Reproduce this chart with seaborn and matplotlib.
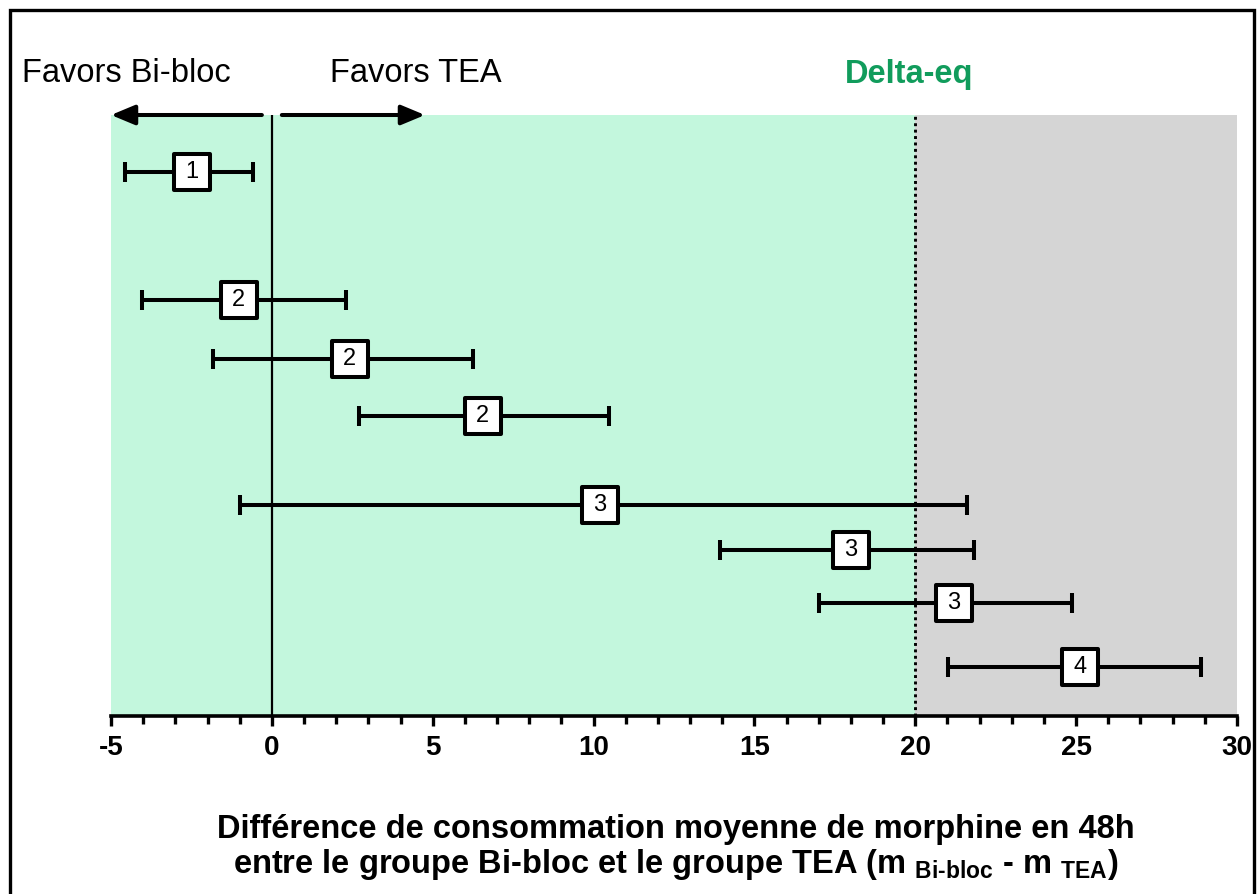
import matplotlib
matplotlib.use("Agg")
import matplotlib.pyplot as plt
import pandas as pd
import seaborn as sns
from matplotlib.patches import Rectangle
from matplotlib.ticker import MultipleLocator


sns.set_theme(style="white")
plt.rcParams["font.family"] = ["Liberation Sans", "DejaVu Sans"]
plt.rcParams["text.color"] = "black"
plt.rcParams["mathtext.fontset"] = "custom"
plt.rcParams["mathtext.rm"] = "Liberation Sans:bold"
plt.rcParams["mathtext.bf"] = "Liberation Sans:bold"
plt.rcParams["mathtext.it"] = "Liberation Sans:bold"


# one row per study, top to bottom
study_group = ["1", "2", "2", "2", "3", "3", "3", "4"]
mean_diff = [-2.49, -1.03, 2.42, 6.56, 10.20, 18.0, 21.2, 25.12]
ci_low = [-4.57, -4.05, -1.83, 2.70, -0.99, 13.93, 17.0, 21.01]
ci_high = [-0.59, 2.32, 6.25, 10.48, 21.6, 21.82, 24.87, 28.88]
row_pos = [1.04, 3.39, 4.47, 5.51, 7.14, 7.96, 8.93, 10.10]

delta_eq = 20
x_min, x_max = -5, 30

GREEN = "#C3F7DD"
GREY = "#D5D5D5"
DELTA_GREEN = "#119C5C"


fig = plt.figure(figsize=(12.6, 8.94), dpi=100)
ax = fig.add_axes([111 / 1260, 1 - 716 / 894, 1126 / 1260, 601 / 894])

ax.axvspan(x_min, delta_eq, color=GREEN, lw=0, zorder=0)
ax.axvspan(delta_eq, x_max, color=GREY, lw=0, zorder=0)
ax.axvline(0, color="black", lw=1.6, zorder=1)
ax.axvline(delta_eq, color="black", lw=2.1, dashes=(1, 1.2), zorder=1)

# confidence intervals as segments
seg = pd.DataFrame({
    "diff": ci_low + ci_high,
    "row": row_pos + row_pos,
    "study": list(range(len(row_pos))) * 2,
})
sns.lineplot(data=seg, x="diff", y="row", units="study", estimator=None,
             sort=False, color="black", lw=2.9, legend=False, ax=ax, zorder=2)
sns.scatterplot(data=seg, x="diff", y="row", marker="|", s=220,
                color="black", linewidth=2.9, legend=False, ax=ax, zorder=3)

# boxed point estimates
pts = pd.DataFrame({"diff": mean_diff, "row": row_pos, "group": study_group})
sns.scatterplot(data=pts, x="diff", y="row", marker="s", s=676,
                facecolor="white", edgecolor="black", linewidth=2.9,
                legend=False, ax=ax, zorder=4)
for _, r in pts.iterrows():
    ax.text(r["diff"], r["row"], r["group"], ha="center", va="center",
            fontsize=17, color="black", zorder=5)

ax.set_xlim(x_min, x_max)
ax.set_ylim(11, 0)
ax.set_yticks([])
ax.set_ylabel("")
ax.set_xlabel("")
for side in ["left", "top", "right"]:
    ax.spines[side].set_visible(False)
ax.spines["bottom"].set_linewidth(2.6)
ax.spines["bottom"].set_color("black")
ax.xaxis.set_major_locator(MultipleLocator(5))
ax.xaxis.set_minor_locator(MultipleLocator(1))
ax.tick_params(axis="x", which="major", bottom=True, direction="out",
               length=7.5, width=2.4, color="black", pad=6,
               labelsize=20, labelcolor="black")
ax.tick_params(axis="x", which="minor", bottom=True, direction="out",
               length=5.8, width=2.4, color="black")
ax.set_xticks(range(x_min, x_max + 1, 5))
ax.set_xticklabels([str(t) for t in range(x_min, x_max + 1, 5)], fontweight="bold")

# direction arrows
arrow = dict(arrowstyle="-|>,head_length=0.6,head_width=0.25",
             lw=2.9, color="black", mutation_scale=24, shrinkA=0, shrinkB=0)
ax.annotate("", xy=(-5, 0), xytext=(-0.31, 0), arrowprops=arrow,
            annotation_clip=False, zorder=6)
ax.annotate("", xy=(4.76, 0), xytext=(0.31, 0), arrowprops=arrow,
            annotation_clip=False, zorder=6)

fig.text(22 / 1260, 1 - 82 / 894, "Favors Bi-bloc", fontsize=23.5,
         ha="left", va="baseline", color="black")
fig.text(330 / 1260, 1 - 82 / 894, "Favors TEA", fontsize=23.5,
         ha="left", va="baseline", color="black")
fig.text(909 / 1260, 1 - 83 / 894, "Delta-eq", fontsize=23.5,
         fontweight="bold", ha="center", va="baseline", color=DELTA_GREEN)

fig.text(676 / 1260, 1 - 838 / 894,
         "Différence de consommation moyenne de morphine en 48h",
         fontsize=23.5, fontweight="bold", ha="center", va="baseline",
         color="black")
fig.text(676 / 1260, 1 - 873 / 894,
         r"entre le groupe Bi-bloc et le groupe TEA (m $_{\mathrm{Bi\text{-}bloc}}$ - m $_{\mathrm{TEA}}$)",
         fontsize=23.5, fontweight="bold", ha="center", va="baseline",
         color="black")

fig.patches.append(Rectangle((10 / 1260, -0.05), 1244 / 1260, 1 - 10 / 894 + 0.05,
                             transform=fig.transFigure, fill=False,
                             lw=2.4, ec="black", zorder=10))

fig.savefig("out.png", dpi=100)
